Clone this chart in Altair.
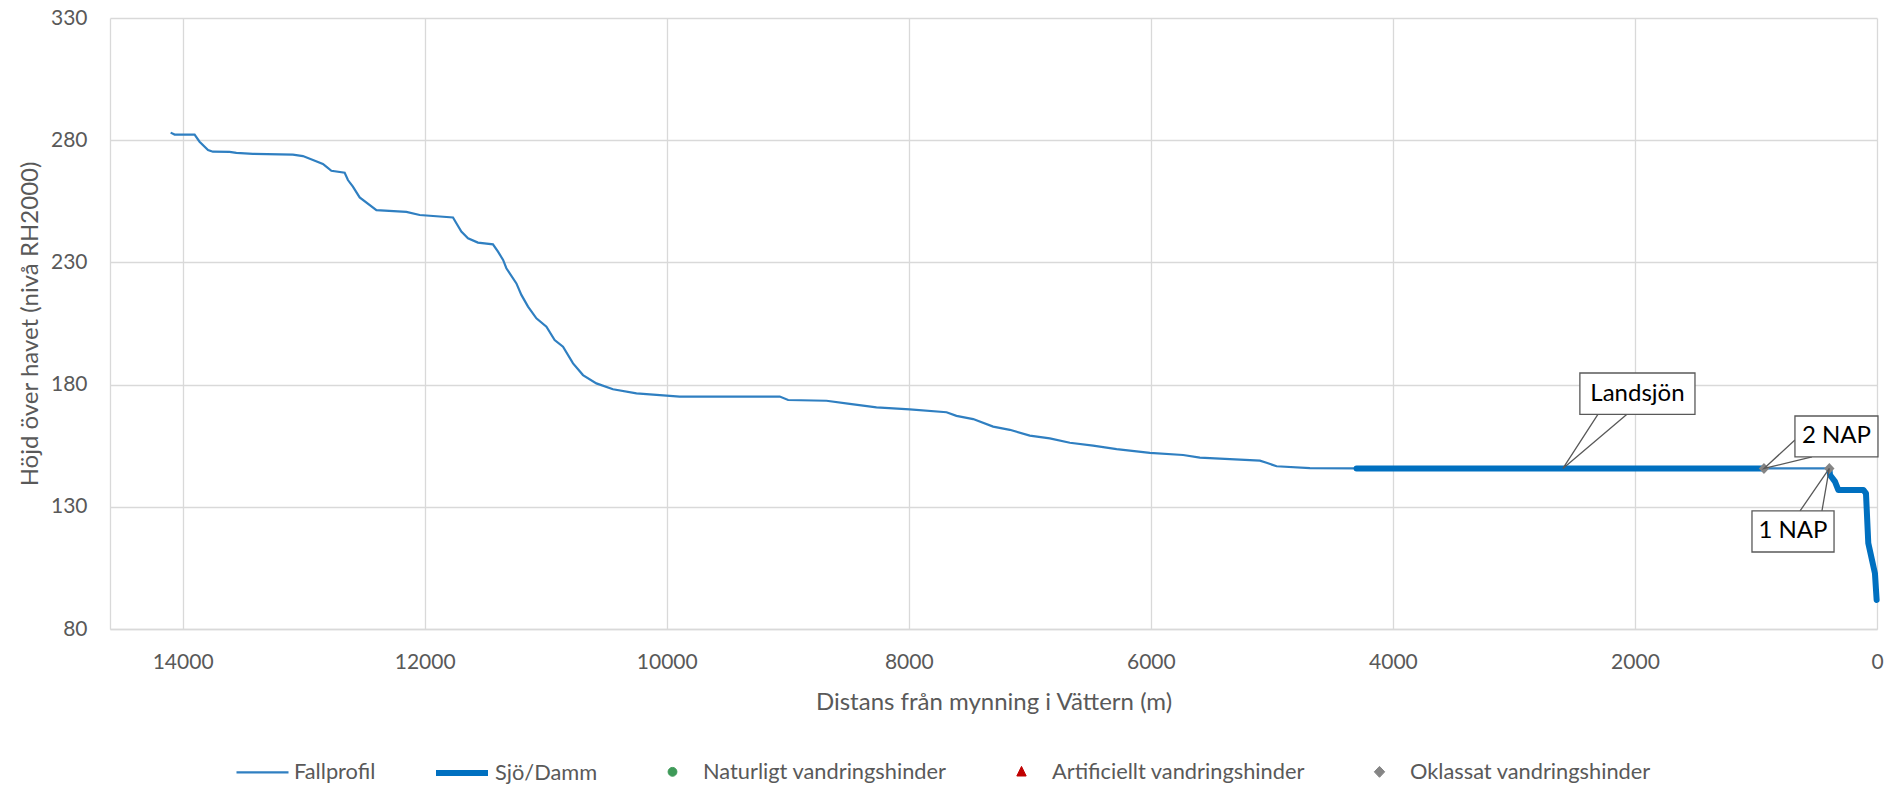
import altair as alt
import pandas as pd

# ---------------- data ----------------
# Fallprofil: distance from mouth (m), height (m, RH2000)
fall_d = [14099, 14066, 13901, 13860, 13790, 13750, 13612, 13556, 13419, 13089,
          13006, 12923, 12841, 12813, 12771, 12661, 12634, 12593, 12537, 12399,
          12151, 12041, 11766, 11738, 11697, 11642, 11560, 11436, 11394, 11352,
          11325, 11242, 11201, 11146, 11077, 10994, 10926, 10857, 10774, 10692,
          10581, 10444, 10250, 10002, 9893, 9066, 8997, 8680, 8488, 8267,
          7992, 7688, 7606, 7468, 7303, 7165, 7000, 6835, 6669, 6477,
          6283, 6008, 5733, 5595, 5099, 5044, 4961, 4686, 4300, 934,
          394, 388, 347, 320, 113, 91, 72, 17, 3]
fall_h = [283.1, 282.3, 282.3, 279.4, 276.0, 275.3, 275.2, 274.8, 274.4, 274.1,
          273.5, 271.9, 270.3, 269.2, 267.5, 266.7, 263.7, 261.0, 256.6, 251.4,
          250.7, 249.4, 248.4, 246.0, 242.6, 239.9, 238.1, 237.4, 234.4, 231.0,
          227.6, 221.4, 216.7, 211.9, 207.1, 203.7, 198.2, 195.5, 188.7, 183.9,
          180.5, 178.1, 176.4, 175.5, 175.1, 175.1, 173.7, 173.4, 172.1, 170.7,
          169.9, 168.7, 167.2, 165.9, 162.8, 161.5, 159.1, 158.0, 156.2, 155.0,
          153.6, 152.1, 151.2, 150.1, 148.9, 148.0, 146.6, 145.8, 145.7, 145.7,
          145.7, 143.0, 140.3, 136.9, 136.9, 135.5, 115.1, 102.8, 91.9]

# Sjö/Damm segments
sjo_d = [4300, 934, 394, 388, 347, 320, 113, 91, 72, 17, 3]
sjo_h = [145.7, 145.7, 145.7, 143.0, 140.3, 136.9, 136.9, 135.5, 115.1, 102.8, 91.9]
sjo_seg = [1, 1, 2, 2, 2, 2, 2, 2, 2, 2, 2]

# Oklassat vandringshinder (NAP)
nap_d = [934, 394]
nap_h = [145.7, 145.7]

series = ["Fallprofil", "Sjö/Damm", "Naturligt vandringshinder",
          "Artificiellt vandringshinder", "Oklassat vandringshinder"]

# annotations (callouts)
ann_label = ["Landsjön", "2 NAP", "1 NAP"]
ann_box_d1 = [2455, 678, 1033]
ann_box_d2 = [1504, -8, 355]
ann_box_h1 = [184.75, 167.15, 128.3]
ann_box_h2 = [167.85, 150.4, 111.5]
ann_tip_d = [2595, 934, 394]
ann_tip_h = [145.7, 145.7, 145.7]
ann_base1_d = [2306, 678, 636]
ann_base1_h = [167.85, 157.3, 128.3]
ann_base2_d = [2066, 537, 455]
ann_base2_h = [167.85, 150.4, 128.3]

x_ticks = [0, 2000, 4000, 6000, 8000, 10000, 12000, 14000]
y_ticks = [80, 130, 180, 230, 280, 330]

# ---------------- styles ----------------
series_colors = ["#2F7FC1", "#0070C0", "#3E9A58", "#C00000", "#858585"]
series_widths = [2.2, 6, 1, 1, 1]
circle_path = "M-0.17,0A0.17,0.17,0,1,0,0.17,0A0.17,0.17,0,1,0,-0.17,0Z"
triangle_path = "M0,-0.21L0.18,0.16L-0.18,0.16Z"
diamond_path = "M0,-0.21L0.2,0L0,0.21L-0.2,0Z"
series_shapes = ["stroke", "stroke", circle_path, triangle_path, diamond_path]
FONT = "Lato"
GREY = "#595959"

# ---------------- tables ----------------
df_fall = pd.DataFrame({"d": fall_d, "h": fall_h, "serie": "Fallprofil"})
df_sjo = pd.DataFrame({"d": sjo_d, "h": sjo_h, "seg": sjo_seg, "serie": "Sjö/Damm"})
df_nap = pd.DataFrame({"d": nap_d, "h": nap_h, "serie": "Oklassat vandringshinder"})

df_box = pd.DataFrame({"d": ann_box_d1, "d2": ann_box_d2, "h": ann_box_h1, "h2": ann_box_h2,
                       "label": ann_label})
df_txt = pd.DataFrame({"d": [(a + b) / 2 for a, b in zip(ann_box_d1, ann_box_d2)],
                       "h": [(a + b) / 2 for a, b in zip(ann_box_h1, ann_box_h2)],
                       "label": ann_label})
rows = []
for i, lab in enumerate(ann_label):
    rows.append({"id": lab, "o": 0, "d": ann_base1_d[i], "h": ann_base1_h[i]})
    rows.append({"id": lab, "o": 1, "d": ann_tip_d[i], "h": ann_tip_h[i]})
    rows.append({"id": lab, "o": 2, "d": ann_base2_d[i], "h": ann_base2_h[i]})
df_ptr = pd.DataFrame(rows)

# ---------------- encodings ----------------
x_scale = alt.Scale(domain=[0, 14600], reverse=True, nice=False, zero=False)
y_scale = alt.Scale(domain=[80, 330], nice=False, zero=False)
x_axis = alt.Axis(values=x_ticks, format="d", title="Distans från mynning i Vättern (m)",
                  labelPadding=22, labelFlush=False, titleY=80, titleBaseline="alphabetic")
y_axis = alt.Axis(values=y_ticks, title="Höjd över havet (nivå RH2000)",
                  labelPadding=23, titleX=-73, titleY=305.5, titleAngle=270,
                  titleBaseline="alphabetic", titleAlign="center")


def X():
    return alt.X("d:Q", scale=x_scale, axis=x_axis, title="Distans från mynning i Vättern (m)")


def Y():
    return alt.Y("h:Q", scale=y_scale, axis=y_axis, title="Höjd över havet (nivå RH2000)")


leg = alt.Legend(title=None)
color_enc = alt.Color("serie:N", scale=alt.Scale(domain=series, range=series_colors), legend=leg)
width_enc = alt.StrokeWidth("serie:N", scale=alt.Scale(type="ordinal", domain=series, range=series_widths),
                            legend=leg)
shape_enc = alt.Shape("serie:N", scale=alt.Scale(domain=series, range=series_shapes), legend=leg)

fall = alt.Chart(df_fall).mark_line().encode(x=X(), y=Y(), color=color_enc, strokeWidth=width_enc)
sjo = alt.Chart(df_sjo).mark_line(strokeCap="round", strokeJoin="round").encode(
    x=X(), y=Y(), color=color_enc, strokeWidth=width_enc, detail="seg:N")
nap = alt.Chart(df_nap).mark_point(filled=True, size=2704, opacity=1).encode(
    x=X(), y=Y(), color=color_enc, strokeWidth=width_enc, shape=shape_enc)

ptr = alt.Chart(df_ptr).mark_line(color=GREY, strokeWidth=1.3).encode(
    x=X(), y=Y(), detail="id:N", order="o:Q")
box = alt.Chart(df_box).mark_rect(fill="white", stroke=GREY, strokeWidth=1.3).encode(
    x=X(), x2="d2", y=Y(), y2="h2")
txt = alt.Chart(df_txt).mark_text(font=FONT, fontSize=24, color="black", align="center",
                                  baseline="middle").encode(x=X(), y=Y(), text="label:N")

chart = alt.layer(fall, sjo, nap, ptr, box, txt).properties(
    width=1767, height=611,
    autosize=alt.AutoSizeParams(type="none"),
    padding={"left": 110, "top": 18, "right": 15, "bottom": 157},
    background="white",
).configure_view(stroke="transparent").configure_axis(
    labelFont=FONT, labelFontSize=21, labelColor=GREY,
    titleFont=FONT, titleFontSize=24, titleColor=GREY, titleFontWeight="normal",
    gridColor="#D9D9D9", gridWidth=1.3, domainColor="#D9D9D9", domainWidth=1.3,
    ticks=False, tickSize=0,
).configure_legend(
    orient="none", legendX=125, legendY=726, direction="horizontal",
    symbolSize=2704, labelFont=FONT, labelFontSize=21.8, labelColor=GREY,
    labelOffset=4, columnPadding=48, padding=0, labelLimit=400, symbolOpacity=1,
)

chart.save("out.html", embed_options={"renderer": "svg", "actions": False})
